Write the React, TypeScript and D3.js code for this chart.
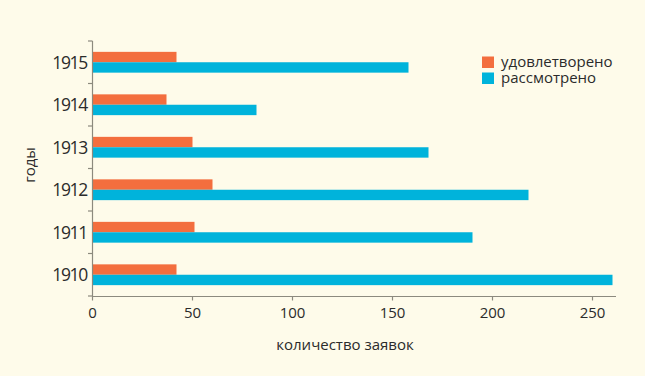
import React from "react";
import * as d3 from "d3";

const years = ["1915", "1914", "1913", "1912", "1911", "1910"];
const approved = [42, 37, 50, 60, 51, 42];
const reviewed = [158, 82, 168, 218, 190, 260];
const xTicks = [0, 50, 100, 150, 200, 250];
const seriesNames = ["удовлетворено", "рассмотрено"];
const seriesColors = ["#F36E3E", "#00B3DB"];

const W = 645;
const H = 376;
const FONT = "'Open Sans', 'Noto Sans', sans-serif";

export default function App() {
  const x = d3.scaleLinear().domain([0, 262]).range([92.5, 616.5]);
  const y = d3.scaleBand<string>().domain(years).range([41, 296]).padding(0);
  const bw = y.bandwidth();
  const pair = 20.8;
  const sub = d3
    .scaleBand<number>()
    .domain([0, 1])
    .range([(bw - pair) / 2, (bw + pair) / 2])
    .padding(0);
  const series = [approved, reviewed];
  const axisColor = "#8C8A7E";
  const textColor = "#2B2B2B";

  return (
    <div style={{ position: "fixed", left: 0, top: 0, width: W, height: H }}>
      <svg width={W} height={H} style={{ display: "block" }}>
        <rect x={0} y={0} width={W} height={H} fill="#FEFBEA" />
        {/* bars */}
        {years.map((yr, i) => (
          <g key={yr} transform={`translate(0,${y(yr)})`}>
            {series.map((s, k) => (
              <rect
                key={k}
                x={x(0)}
                y={sub(k)}
                width={x(s[i]) - x(0)}
                height={sub.bandwidth()}
                fill={seriesColors[k]}
              />
            ))}
          </g>
        ))}
        {/* y axis */}
        <line x1={92.5} x2={92.5} y1={41} y2={296.5} stroke={axisColor} strokeWidth={1.2} />
        {[...years.map((yr) => y(yr) as number), 296].map((v, i) => (
          <line key={i} x1={88} x2={92.5} y1={v} y2={v} stroke={axisColor} strokeWidth={1.2} />
        ))}
        {years.map((yr) => (
          <text
            key={yr}
            x={87}
            y={(y(yr) as number) + bw / 2 + 6.5}
            textAnchor="end"
            fontFamily={FONT}
            fontSize={17.5}
            fontWeight={400}
            letterSpacing={-1.3}
            fill={textColor}
          >
            {yr}
          </text>
        ))}
        {/* x axis */}
        <line x1={92} x2={616} y1={296.5} y2={296.5} stroke={axisColor} strokeWidth={1.2} />
        {xTicks.map((t) => (
          <g key={t}>
            <line x1={x(t)} x2={x(t)} y1={296.5} y2={300.5} stroke={axisColor} strokeWidth={1.2} />
            <text
              x={x(t)}
              y={318}
              textAnchor="middle"
              fontFamily={FONT}
              fontSize={15}
              fill={textColor}
            >
              {t}
            </text>
          </g>
        ))}
        {/* axis titles */}
        <text x={345} y={350} textAnchor="middle" fontFamily={FONT} fontSize={15} fill={textColor}>
          количество заявок
        </text>
        <text
          transform="translate(35,165) rotate(-90)"
          textAnchor="middle"
          fontFamily={FONT}
          fontSize={15}
          fill={textColor}
        >
          годы
        </text>
        {/* legend */}
        {seriesNames.map((n, k) => (
          <g key={n} transform={`translate(482,${56.5 + k * 16})`}>
            <rect x={0} y={0} width={12} height={11.5} fill={seriesColors[k]} />
            <text x={19} y={10} fontFamily={FONT} fontSize={15} fill={textColor}>
              {n}
            </text>
          </g>
        ))}
      </svg>
    </div>
  );
}
